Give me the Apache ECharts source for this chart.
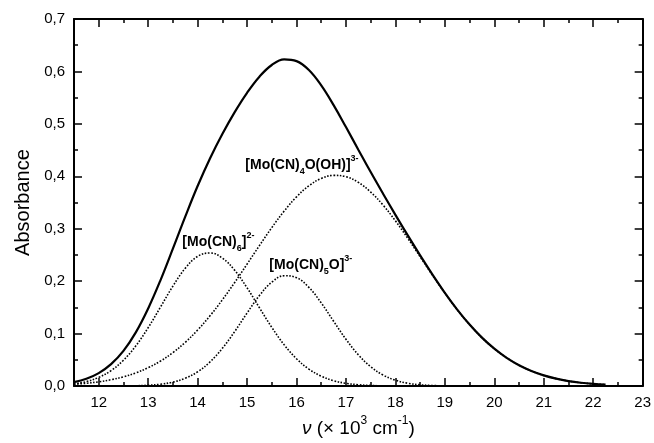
<!DOCTYPE html>
<html>
<head>
<meta charset="utf-8">
<script src="https://cdn.jsdelivr.net/npm/echarts@6/dist/echarts.min.js"></script>
<style>
html,body{margin:0;padding:0;background:#fff;}
#chart{width:654px;height:443px;}
</style>
</head>
<body>
<div id="chart"></div>
<script>
// wavenumber (x 10^3 cm^-1)
var nu = [11.5,11.75,12,12.25,12.5,12.75,13,13.25,13.5,13.75,14,14.25,14.5,14.75,15,15.25,15.5,15.75,16,16.25,16.5,16.75,17,17.25,17.5,17.75,18,18.25,18.5,18.75,19,19.25,19.5,19.75,20,20.25,20.5,20.75,21,21.25,21.5,21.75,22,22.25];
// total absorbance (solid)
var total = [0.0077,0.0140,0.0248,0.0419,0.0672,0.1025,0.1481,0.2022,0.2621,0.3232,0.3815,0.4340,0.4807,0.5225,0.5593,0.5900,0.6123,0.6229,0.6197,0.6027,0.5734,0.5358,0.4939,0.4508,0.4081,0.3669,0.3266,0.2873,0.2492,0.2126,0.1779,0.1459,0.1173,0.0924,0.0713,0.0538,0.0398,0.0288,0.0204,0.0142,0.0096,0.0064,0.0042,0.0027];
// [Mo(CN)6]2-
var moCN6 = [0.0042,0.0086,0.0166,0.0296,0.0493,0.0767,0.1114,0.1508,0.1906,0.2247,0.2473,0.2539,0.2442,0.2207,0.1874,0.1494,0.1120,0.0788,0.0521,0.0324,0.0189,0.0103,0.0053,0.0026,0.0012,0.0005,0.0002,0.0001,0,0,0,null,null,null,null,null,null,null,null,null,null,null,null,null];
// [Mo(CN)5O]3-
var moCN5O = [0,0,0,0.0001,0.0002,0.0006,0.0016,0.0036,0.0076,0.0150,0.0273,0.0461,0.0720,0.1041,0.1393,0.1727,0.1981,0.2104,0.2068,0.1883,0.1586,0.1237,0.0893,0.0597,0.0369,0.0212,0.0112,0.0055,0.0025,0.0011,0.0004,0.0001,0,null,null,null,null,null,null,null,null,null,null,null];
// [Mo(CN)4O(OH)]3-
var moCN4OOH = [0.0035,0.0054,0.0082,0.0122,0.0177,0.0252,0.0351,0.0478,0.0639,0.0835,0.1069,0.1340,0.1645,0.1977,0.2326,0.2679,0.3022,0.3337,0.3608,0.3820,0.3959,0.4018,0.3993,0.3885,0.3700,0.3452,0.3152,0.2818,0.2467,0.2115,0.1775,0.1458,0.1173,0.0924,0.0713,0.0538,0.0398,0.0288,0.0204,0.0142,0.0096,0.0064,0.0042,0.0027];
// tick labels
var xTicks = [12,13,14,15,16,17,18,19,20,21,22,23];
var xMinor = [12.5,13.5,14.5,15.5,16.5,17.5,18.5,19.5,20.5,21.5,22.5];
// label anchors (data coords) and rich texts
var labelTexts = ['{b|[Mo(CN)}{sub|6}{b|]}{sup|2-}', '{b|[Mo(CN)}{sub|5}{b|O]}{sup|3-}', '{b|[Mo(CN)}{sub|4}{b|O(OH)]}{sup|3-}'];
var labelX = [14.42, 16.29, 16.11];
var labelY = [0.275, 0.2315, 0.4215];

function pairs(ys){ return nu.map(function(x,i){ return [x, ys[i]]; }); }

var FONT = 'Liberation Sans, Arial, sans-serif';
var chart = echarts.init(document.getElementById('chart'), null, {renderer:'canvas'});

function xAx(pos, major, showLabel, showLine){
  var a = {
    type:'value', min:11.5, max:23, position:pos, gridIndex:0,
    axisLine:{show:showLine, onZero:false, lineStyle:{color:'#000', width:2}},
    splitLine:{show:false},
    axisTick:{show:true, inside:true, length: major?8:4, lineStyle:{color:'#000', width:1.5}},
    axisLabel:{show:showLabel, color:'#000', fontSize:15, fontFamily:FONT, margin:9}
  };
  if (major) {
    a.axisTick.customValues = xTicks;
    a.axisLabel.customValues = xTicks;
  } else {
    a.axisTick.customValues = xMinor;
  }
  return a;
}

var xAxes = [xAx('bottom', true, true, true), xAx('bottom', false, false, false), xAx('top', true, false, true), xAx('top', false, false, false)];
xAxes[0].name = '{i|\u03BD}{n| (\u00D7 10}{s|3}{n| cm}{s|-1}{n|)}';
xAxes[0].nameLocation = 'middle';
xAxes[0].nameGap = 28;
xAxes[0].nameTextStyle = {color:'#000', fontFamily:FONT, fontSize:19,
  rich:{
    i:{fontStyle:'italic', fontSize:19, fontFamily:FONT, color:'#000', lineHeight:23, verticalAlign:'bottom'},
    n:{fontSize:19, fontFamily:FONT, color:'#000', lineHeight:23, verticalAlign:'bottom'},
    s:{fontSize:12, fontFamily:FONT, color:'#000', lineHeight:12, verticalAlign:'top'}
  }};

function yAx(pos, showLabel){
  return {
    type:'value', min:0, max:0.7, interval:0.1, position:pos, gridIndex:0,
    axisLine:{show:true, onZero:false, lineStyle:{color:'#000', width:2}},
    splitLine:{show:false},
    axisTick:{show:true, inside:true, length:8, lineStyle:{color:'#000', width:1.5}},
    minorTick:{show:true, splitNumber:2, length:4, lineStyle:{color:'#000', width:1.5}},
    axisLabel:{show:showLabel, color:'#000', fontSize:15, fontFamily:FONT, margin:9,
      formatter:function(v){ return v.toFixed(1).replace('.', ','); }}
  };
}
var yAxes = [yAx('left', true), yAx('right', false)];
yAxes[0].name = 'Absorbance';
yAxes[0].nameLocation = 'middle';
yAxes[0].nameGap = 39;
yAxes[0].nameTextStyle = {color:'#000', fontFamily:FONT, fontSize:20};

var dotted = {color:'#000', width:1.6, type:[1.6,1.6]};

chart.setOption({
  animation:false,
  backgroundColor:'#fff',
  grid:{left:74, right:9, top:19, bottom:52, containLabel:false},
  xAxis:xAxes,
  yAxis:yAxes,
  series:[
    {type:'line', name:'total', data:pairs(total), xAxisIndex:0, yAxisIndex:0, showSymbol:false, smooth:0.4, lineStyle:{color:'#000', width:2.2}, z:5},
    {type:'line', name:'[Mo(CN)6]2-', data:pairs(moCN6), xAxisIndex:0, yAxisIndex:0, showSymbol:false, smooth:0.4, lineStyle:dotted},
    {type:'line', name:'[Mo(CN)5O]3-', data:pairs(moCN5O), xAxisIndex:0, yAxisIndex:0, showSymbol:false, smooth:0.4, lineStyle:dotted},
    {type:'line', name:'[Mo(CN)4O(OH)]3-', data:pairs(moCN4OOH), xAxisIndex:0, yAxisIndex:0, showSymbol:false, smooth:0.4, lineStyle:dotted}
  ]
});

var rich = {
  b:{fontSize:14, fontWeight:'bold', fontFamily:FONT, color:'#000', lineHeight:22, verticalAlign:'middle'},
  sub:{fontSize:9, fontWeight:'bold', fontFamily:FONT, color:'#000', lineHeight:9, verticalAlign:'bottom'},
  sup:{fontSize:9, fontWeight:'bold', fontFamily:FONT, color:'#000', lineHeight:9, verticalAlign:'top'}
};
var graphics = labelTexts.map(function(t, i){
  var p = chart.convertToPixel({xAxisIndex:0, yAxisIndex:0}, [labelX[i], labelY[i]]);
  return {type:'text', x:p[0], y:p[1], z:10, style:{text:t, rich:rich, align:'center', verticalAlign:'middle', fontFamily:FONT}};
});
chart.setOption({graphic:graphics});
</script>
</body>
</html>
